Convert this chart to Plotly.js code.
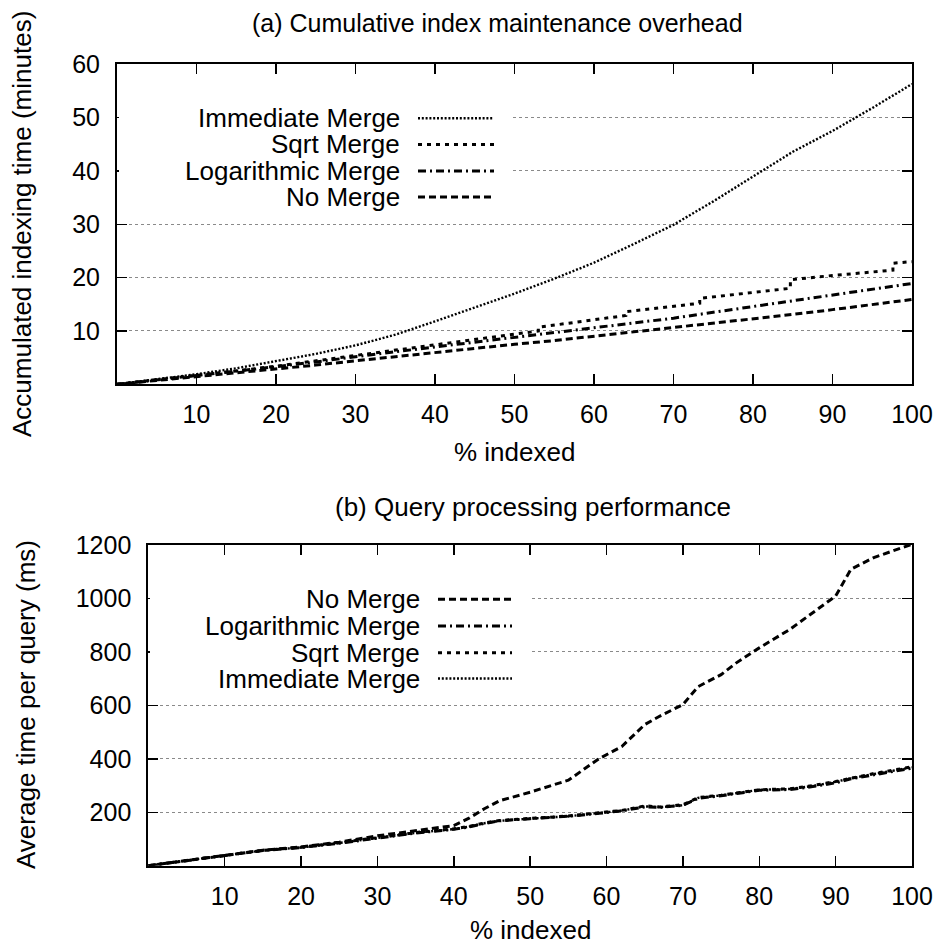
<!DOCTYPE html>
<html>
<head>
<meta charset="utf-8">
<script src="https://cdn.plot.ly/plotly-3.0.1.min.js"></script>
<style>html,body{margin:0;padding:0;background:#fff;}</style>
</head>
<body>
<div id="chart" style="width:940px;height:945px;"></div>
<script>
// ---------- (a) Cumulative index maintenance overhead (minutes) ----------
var pctA = [0,5,10,15,20,25,30,35,40,45,50,55,60,65,70,75,80,85,90,95,100];
var immediateA = [0,0.9,1.9,3.0,4.3,5.7,7.3,9.3,11.8,14.4,17.0,19.8,22.8,26.3,29.9,34.3,39.0,43.6,47.5,51.8,56.3];
var logarithmicA = [0,0.8,1.6,2.5,3.3,4.2,5.2,6.1,7.0,7.9,8.8,9.7,10.6,11.5,12.4,13.5,14.6,15.7,16.8,17.9,18.9];
var noMergeA = [0,0.7,1.4,2.2,2.9,3.6,4.4,5.2,6.0,6.7,7.5,8.2,9.0,9.8,10.6,11.4,12.3,13.1,14.0,14.9,15.9];
var pctSqrtA = [0,5,10,15,20,25,30,35,40,45,50,53,53,60,64,64,70,73.3,73.3,80,84.7,84.7,90,97.6,97.6,100];
var sqrtA = [0,0.8,1.6,2.5,3.4,4.4,5.5,6.5,7.4,8.4,9.4,10.0,10.7,12.1,12.9,13.6,14.6,15.2,16.1,17.2,18.0,19.6,20.4,21.4,22.7,23.0];

// ---------- (b) Query processing performance (ms) ----------
var pctB = [0,5,10,15,20,25,30,35,40,42,44,46,50,55,59,62,65,67,70,72,75,77,80,84,87,90,92,95,100];
var noMergeB = [0,20,40,58,70,88,112,130,150,178,213,243,275,320,400,446,528,560,603,670,715,759,815,884,946,1009,1109,1153,1203];
var logarithmicB = [0,20,38,57,68,84,104,122,136,145,158,168,176,185,196,205,220,218,226,252,262,270,282,285,296,310,325,340,365];
var sqrtB = [0,20,38,57,69,86,106,124,138,147,160,169,177,186,198,207,224,220,228,255,264,272,284,288,300,315,328,345,370];
var immediateB = [0,20,38,57,68,85,105,123,137,146,159,168,176,185,197,206,222,219,226,254,263,272,284,287,298,314,327,343,368];

var xTicks = [10,20,30,40,50,60,70,80,90,100];
var yTicksA = [10,20,30,40,50,60];
var yTicksB = [200,400,600,800,1000,1200];

var FONT = 'Liberation Sans, Arial, Helvetica, sans-serif';
var W = 940, H = 945;
function px(x){ return x / W; }
function py(y){ return 1 - y / H; }

var styles = {
  'Immediate Merge': {color:'#000', width:2.4, dash:'2px,1.8px'},
  'Sqrt Merge': {color:'#000', width:3, dash:'4px,5px'},
  'Logarithmic Merge': {color:'#000', width:3, dash:'8px,4px,2px,4px'},
  'No Merge': {color:'#000', width:3, dash:'7px,4px'}
};

function tr(x, y, name, xa, ya){
  return {x:x, y:y, name:name, type:'scatter', mode:'lines', xaxis:xa, yaxis:ya,
          line: styles[name], hoverinfo:'skip', showlegend:false};
}

var data = [
  tr(pctA, noMergeA, 'No Merge', 'x', 'y'),
  tr(pctA, logarithmicA, 'Logarithmic Merge', 'x', 'y'),
  tr(pctSqrtA, sqrtA, 'Sqrt Merge', 'x', 'y'),
  tr(pctA, immediateA, 'Immediate Merge', 'x', 'y'),
  tr(pctB, immediateB, 'Immediate Merge', 'x2', 'y2'),
  tr(pctB, sqrtB, 'Sqrt Merge', 'x2', 'y2'),
  tr(pctB, logarithmicB, 'Logarithmic Merge', 'x2', 'y2'),
  tr(pctB, noMergeB, 'No Merge', 'x2', 'y2')
];

function axisBase(){
  return {showline:true, linecolor:'#000', linewidth:2, mirror:'ticks',
          ticks:'inside', ticklen:10, tickwidth:1.5, tickcolor:'#000',
          zeroline:false, fixedrange:true, tickfont:{family:FONT, size:25, color:'#000'},
          tickmode:'array'};
}
var xa = axisBase(); xa.domain=[px(117),px(912)]; xa.range=[0,100]; xa.anchor='y';
xa.tickvals=xTicks; xa.ticktext=xTicks.map(String); xa.showgrid=false; xa.ticklabelstandoff=7;
var ya = axisBase(); ya.domain=[py(384.3),py(64.3)]; ya.range=[0,60]; ya.anchor='x';
ya.tickvals=yTicksA; ya.ticktext=yTicksA.map(String); ya.showgrid=true; ya.gridcolor='#8a8a8a';
ya.griddash='dot'; ya.gridwidth=1; ya.ticklabelstandoff=10;
var xb = axisBase(); xb.domain=[px(148.3),px(912)]; xb.range=[0,100]; xb.anchor='y2';
xb.tickvals=xTicks; xb.ticktext=xTicks.map(String); xb.showgrid=false; xb.ticklabelstandoff=7;
var yb = axisBase(); yb.domain=[py(865.7),py(545)]; yb.range=[0,1200]; yb.anchor='x2';
yb.tickvals=yTicksB; yb.ticktext=yTicksB.map(String); yb.showgrid=true; yb.gridcolor='#8a8a8a';
yb.griddash='dot'; yb.gridwidth=1; yb.ticklabelstandoff=10;

var shapes = [], annotations = [];
function txt(text, x, y, opts){
  var a = {text:text, x:px(x), y:py(y), xref:'paper', yref:'paper', showarrow:false,
           xanchor:'center', yanchor:'middle', font:{family:FONT, size:26, color:'#000'}};
  for (var k in opts) a[k]=opts[k];
  annotations.push(a);
}
// key boxes (opaque, hide grid behind the key)
shapes.push({type:'rect', xref:'paper', yref:'paper', x0:px(119), x1:px(510), y0:py(212), y1:py(102),
             fillcolor:'#fff', line:{width:0}, layer:'above'});
shapes.push({type:'rect', xref:'paper', yref:'paper', x0:px(150), x1:px(530), y0:py(690), y1:py(585),
             fillcolor:'#fff', line:{width:0}, layer:'above'});

var keyA = ['Immediate Merge','Sqrt Merge','Logarithmic Merge','No Merge'];
var keyAy = [118.3,144.5,171,197];
var keyB = ['No Merge','Logarithmic Merge','Sqrt Merge','Immediate Merge'];
var keyBy = [599.3,626,652.7,678.5];
keyA.forEach(function(n,i){
  txt(n, 402, keyAy[i], {xanchor:'right'});
  shapes.push({type:'line', xref:'paper', yref:'paper', x0:px(418), x1:px(494), y0:py(keyAy[i]), y1:py(keyAy[i]),
               line:styles[n], layer:'above'});
});
keyB.forEach(function(n,i){
  txt(n, 422, keyBy[i], {xanchor:'right'});
  shapes.push({type:'line', xref:'paper', yref:'paper', x0:px(438), x1:px(512), y0:py(keyBy[i]), y1:py(keyBy[i]),
               line:styles[n], layer:'above'});
});

txt('(a) Cumulative index maintenance overhead', 497, 23, {font:{family:FONT, size:25, color:'#000'}});
txt('% indexed', 514, 452);
txt('Accumulated indexing time (minutes)', 22, 224, {textangle:-90});
txt('(b) Query processing performance', 533, 507);
txt('% indexed', 530, 930);
txt('Average time per query (ms)', 26, 705, {textangle:-90});

var layout = {
  width: W, height: H,
  margin: {l:0, r:0, t:0, b:0},
  paper_bgcolor:'#fff', plot_bgcolor:'#fff',
  showlegend:false,
  font:{family:FONT, size:24, color:'#000'},
  xaxis: xa, yaxis: ya, xaxis2: xb, yaxis2: yb,
  shapes: shapes, annotations: annotations
};

Plotly.newPlot('chart', data, layout, {displayModeBar:false, staticPlot:true});
</script>
</body>
</html>
